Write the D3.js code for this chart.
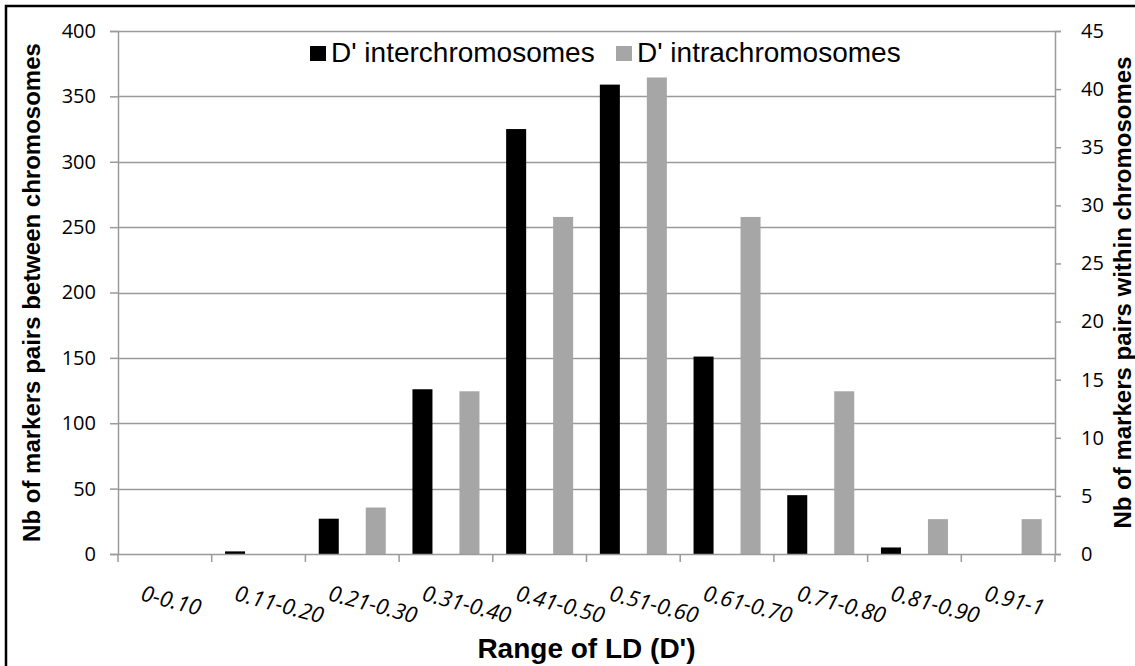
<!DOCTYPE html>
<html>
<head>
<meta charset="utf-8">
<script src="https://cdn.jsdelivr.net/npm/d3@7"></script>
<style>
  html, body { margin: 0; padding: 0; background: #fff; }
  svg { display: block; }
</style>
</head>
<body>
<svg id="chart"></svg>
<script>
// data
const categories = ["0-0.10", "0.11-0.20", "0.21-0.30", "0.31-0.40", "0.41-0.50",
                    "0.51-0.60", "0.61-0.70", "0.71-0.80", "0.81-0.90", "0.91-1"];
const interValues = [0, 2, 27, 126, 325, 359, 151, 45, 5, 0];   // left axis
const intraValues = [0, 0, 4, 14, 29, 41, 29, 14, 3, 3];        // right axis
const seriesNames = ["D' interchromosomes", "D' intrachromosomes"];
const seriesColors = ["#000000", "#a6a6a6"];
const leftTicks = [0, 50, 100, 150, 200, 250, 300, 350, 400];
const rightTicks = [0, 5, 10, 15, 20, 25, 30, 35, 40, 45];

const width = 1135, height = 666;
const margin = {left: 118, right: 80, top: 31, bottom: 112};
const plotRight = width - margin.right;   // 1055
const plotBottom = height - margin.bottom; // 554

const svg = d3.select("#chart")
	.attr("width", width)
	.attr("height", height)
	.attr("viewBox", "0 0 " + width + " " + height);

const tickFont = "'Open Sans', sans-serif";
const titleFont = "'Liberation Sans', Arial, sans-serif";

// frame (only top and left edges are inside the crop)
svg.append("rect")
	.attr("x", 6).attr("y", 6)
	.attr("width", width + 10).attr("height", height + 10)
	.style("fill", "none")
	.style("stroke", "#000")
	.style("stroke-width", 2.5);

const x0 = d3.scaleBand()
	.domain(categories)
	.range([margin.left, plotRight])
	.padding(0);

const x1 = d3.scaleBand()
	.domain(["inter", "intra"])
	.range([0, x0.bandwidth()])
	.paddingInner(0.574)
	.paddingOuter(0.284);

const yLeft = d3.scaleLinear().domain([0, 400]).range([plotBottom, margin.top]);
const yRight = d3.scaleLinear().domain([0, 45]).range([plotBottom, margin.top]);

// gridlines
svg.append("g")
	.selectAll("line")
	.data(leftTicks.filter(d => d > 0))
	.join("line")
	.attr("x1", margin.left).attr("x2", plotRight)
	.attr("y1", d => Math.round(yLeft(d)) + 0.5)
	.attr("y2", d => Math.round(yLeft(d)) + 0.5)
	.style("stroke", "#9a9a9a")
	.style("stroke-width", 1.5);

// left axis
const leftAxis = svg.append("g")
	.attr("transform", "translate(" + margin.left + ",0)")
	.call(d3.axisLeft(yLeft).tickValues(leftTicks).tickSize(8).tickPadding(14));

// right axis
const rightAxis = svg.append("g")
	.attr("transform", "translate(" + plotRight + ",0)")
	.call(d3.axisRight(yRight).tickValues(rightTicks).tickSize(6).tickPadding(20));

[leftAxis, rightAxis].forEach(g => {
	g.select(".domain").style("stroke", "#9a9a9a").style("stroke-width", 1.5);
	g.selectAll(".tick line").style("stroke", "#9a9a9a").style("stroke-width", 1.5);
	g.selectAll(".tick text")
		.style("font-family", tickFont)
		.style("font-size", "20px")
		.style("fill", "#000");
});

// bars
const groups = svg.append("g")
	.selectAll("g")
	.data(categories)
	.join("g")
	.attr("transform", d => "translate(" + x0(d) + ",0)");

groups.append("rect")
	.attr("x", x1("inter"))
	.attr("width", x1.bandwidth())
	.attr("y", (d, i) => yLeft(interValues[i]))
	.attr("height", (d, i) => plotBottom - yLeft(interValues[i]))
	.style("fill", seriesColors[0]);

groups.append("rect")
	.attr("x", x1("intra"))
	.attr("width", x1.bandwidth())
	.attr("y", (d, i) => yRight(intraValues[i]))
	.attr("height", (d, i) => plotBottom - yRight(intraValues[i]))
	.style("fill", seriesColors[1]);

// x axis baseline and tick marks on category boundaries
svg.append("line")
	.attr("x1", margin.left).attr("x2", plotRight)
	.attr("y1", plotBottom + 0.5).attr("y2", plotBottom + 0.5)
	.style("stroke", "#9a9a9a")
	.style("stroke-width", 1.5);

const boundaries = categories.map(c => x0(c)).concat([plotRight]);
svg.append("g")
	.selectAll("line")
	.data(boundaries)
	.join("line")
	.attr("x1", d => d).attr("x2", d => d)
	.attr("y1", plotBottom).attr("y2", plotBottom + 8)
	.style("stroke", "#9a9a9a")
	.style("stroke-width", 1.5);

// rotated category labels
svg.append("g")
	.selectAll("text")
	.data(categories)
	.join("text")
	.attr("transform", d => "translate(" + (x0(d) + x0.bandwidth() / 2 - 25) + "," + 600 + ") rotate(15)")
	.attr("text-anchor", "start")
	.style("font-family", tickFont)
	.style("font-style", "italic")
	.style("font-size", "22px")
	.text(d => d);

// axis titles
svg.append("text")
	.attr("x", (margin.left + plotRight) / 2)
	.attr("y", 658)
	.attr("text-anchor", "middle")
	.style("font-family", titleFont)
	.style("font-weight", "bold")
	.style("font-size", "28px")
	.text("Range of LD (D')");

svg.append("text")
	.attr("transform", "translate(40," + (margin.top + plotBottom) / 2 + ") rotate(-90)")
	.attr("text-anchor", "middle")
	.style("font-family", titleFont)
	.style("font-weight", "bold")
	.style("font-size", "24px")
	.text("Nb of markers pairs between chromosomes");

svg.append("text")
	.attr("transform", "translate(1131," + (margin.top + plotBottom) / 2 + ") rotate(-90)")
	.attr("text-anchor", "middle")
	.style("font-family", titleFont)
	.style("font-weight", "bold")
	.style("font-size", "24px")
	.text("Nb of markers pairs within chromosomes");

// legend
const legend = svg.append("g");
const legendX = [310, 616];
seriesNames.forEach((name, i) => {
	legend.append("rect")
		.attr("x", legendX[i]).attr("y", 46)
		.attr("width", 16).attr("height", 15)
		.style("fill", seriesColors[i]);
	legend.append("text")
		.attr("x", legendX[i] + 21)
		.attr("y", 62)
		.style("font-family", titleFont)
		.style("font-size", "28px")
		.text(name);
});
</script>
</body>
</html>
